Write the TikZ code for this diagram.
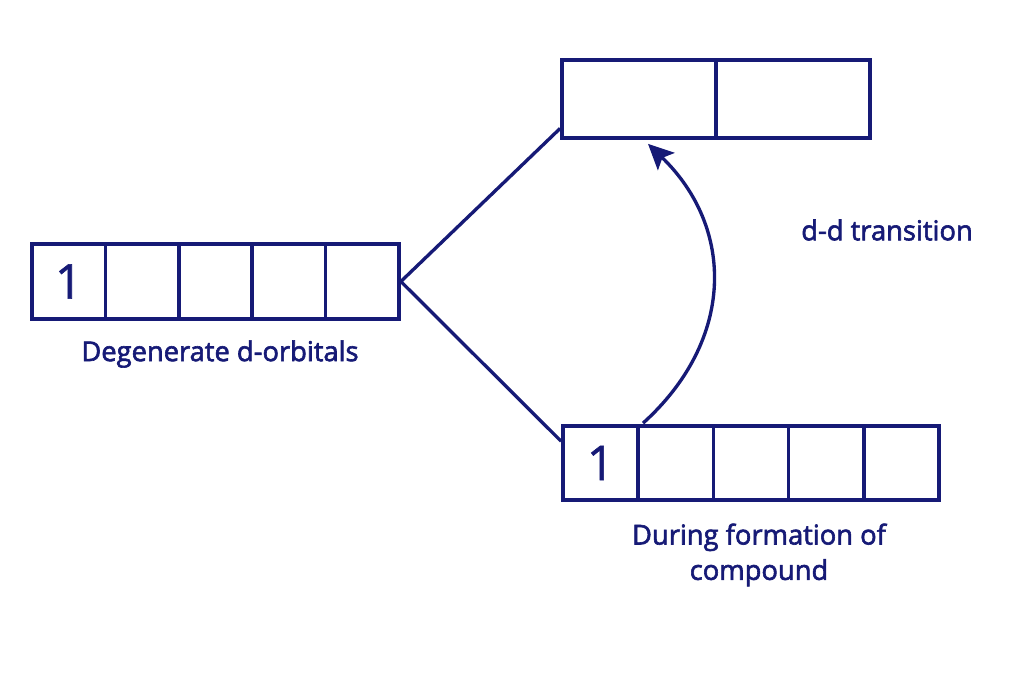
\documentclass[tikz,border=0pt]{standalone}
\usepackage{fontspec}
\setmainfont{Open Sans}
\newfontfamily\lblfont{Open Sans}
\newcommand\heavytext[1]{\special{pdf:literal direct 2 Tr 0.45 w}#1\special{pdf:literal direct 0 Tr}}
\usetikzlibrary{arrows.meta,calc}
\definecolor{navy}{RGB}{22,26,118}
\begin{document}
\begin{tikzpicture}[x=0.75pt,y=-0.75pt,
  cell/.style={draw=navy,line width=2.8pt,rectangle,inner sep=0pt,text=navy,font=\lblfont\fontsize{36}{40}\selectfont},
  lcell/.style={cell,minimum width=55.05pt,minimum height=56.25pt},
  tcell/.style={cell,minimum width=115.5pt,minimum height=58.5pt},
  bcell/.style={cell,minimum width=56.4pt,minimum height=55.5pt},
  conn/.style={draw=navy,line width=2.5pt},
  lbl/.style={text=navy,font=\lblfont\fontsize{20.5}{26.5}\selectfont,align=center,inner sep=0pt}]
\useasboundingbox (0,0) rectangle (1024,682);
\fill[white] (0,0) rectangle (1024,682);
% left row
\node[lcell] (L1) at (68.7,281.5) {\heavytext{1}};
\node[lcell] (L2) at (142.1,281.5) {};
\node[lcell] (L3) at (215.5,281.5) {};
\node[lcell] (L4) at (288.9,281.5) {};
\node[lcell] (L5) at (362.3,281.5) {};
% top row
\node[tcell] (T1) at (639,99) {};
\node[tcell] (T2) at (793,99) {};
% bottom row
\node[bcell] (B1) at (600.6,463) {\heavytext{1}};
\node[bcell] (B2) at (675.8,463) {};
\node[bcell] (B3) at (751,463) {};
\node[bcell] (B4) at (826.2,463) {};
\node[bcell] (B5) at (901.4,463) {};
% connectors
\coordinate (TL) at ($(T1.south west)!0.14!(T1.north west)$);
\coordinate (BL) at ($(B1.north west)!0.22!(B1.south west)$);
\draw[conn] (L5.east) -- (TL);
\draw[conn] (L5.east) -- (BL);
\coordinate (AS) at ($(B1.north east)+(3,-1)$);
\coordinate (AE) at ($(T1.south)+(9,4)$);
\draw[conn,-{Stealth[length=19pt,width=18pt,inset=4pt]}] (AS) .. controls (735,340) and (735,228) .. (AE);
% labels
\node[lbl] (lab1) at (220,354) {\heavytext{Degenerate d-orbitals}};
\node[lbl] (lab2) at (887,230) {\heavytext{d-d transition}};
\node[lbl] (lab3) at (759,555) {\heavytext{During formation of}\\\heavytext{compound}};
\end{tikzpicture}
\end{document}
